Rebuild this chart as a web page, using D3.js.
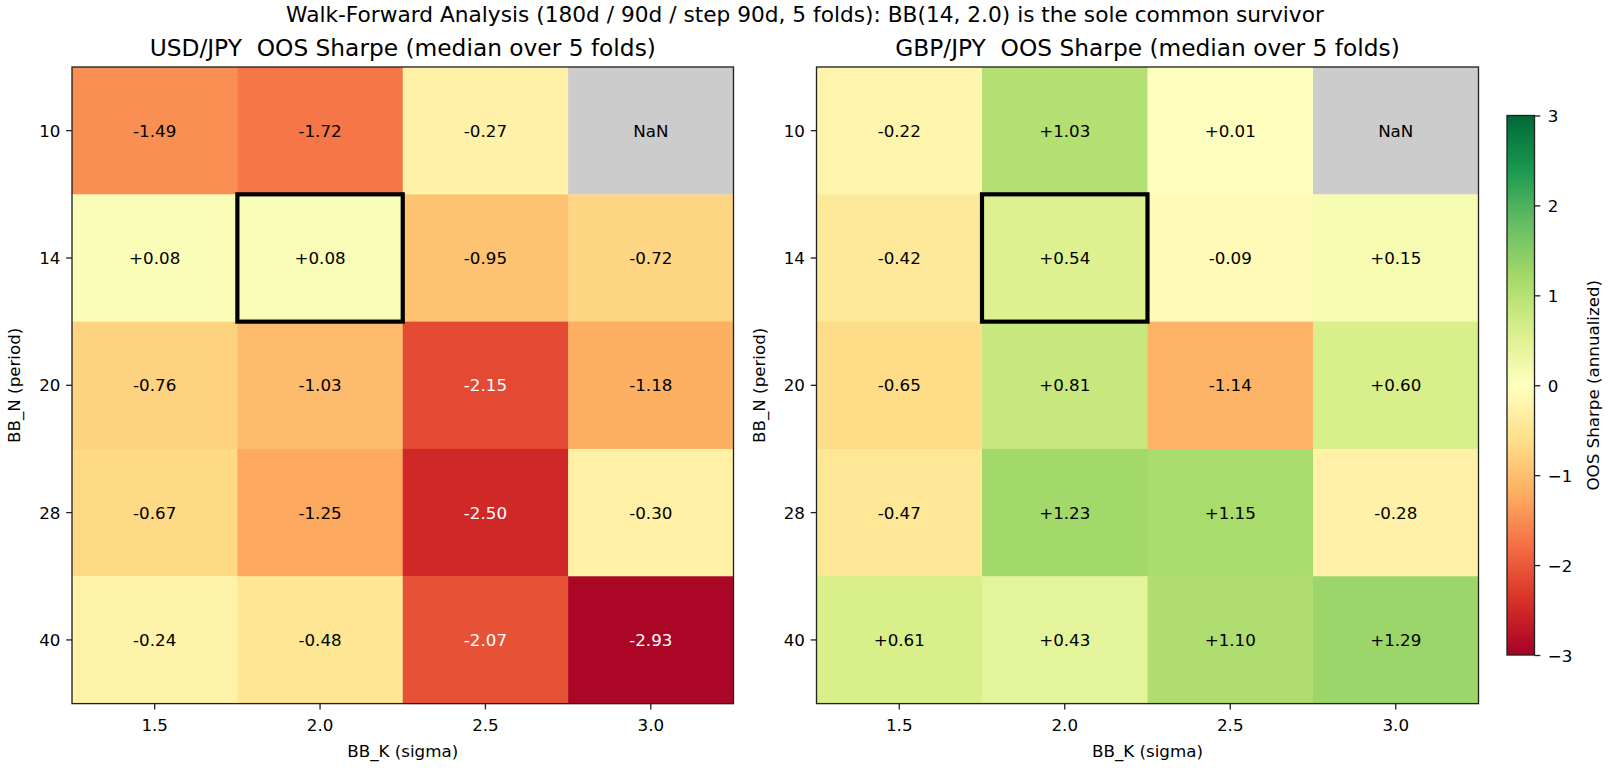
<!DOCTYPE html>
<html><head><meta charset="utf-8">
<script src="https://cdn.jsdelivr.net/npm/d3@7"></script>
<style>
html,body{margin:0;padding:0;background:#fff;}
text{font-family:"DejaVu Sans",sans-serif;fill:#000;white-space:pre;}
</style></head>
<body>
<svg id="chart" width="1610" height="770"></svg>
<script>
// ---- data ----
const suptitle = "Walk-Forward Analysis (180d / 90d / step 90d, 5 folds): BB(14, 2.0) is the sole common survivor";
const bbK = ["1.5", "2.0", "2.5", "3.0"];
const bbN = ["10", "14", "20", "28", "40"];
const pairTitles = ["USD/JPY  OOS Sharpe (median over 5 folds)", "GBP/JPY  OOS Sharpe (median over 5 folds)"];
const usdjpy = [
  [-1.49, -1.72, -0.27, null],
  [0.08, 0.08, -0.95, -0.72],
  [-0.76, -1.03, -2.15, -1.18],
  [-0.67, -1.25, -2.50, -0.30],
  [-0.24, -0.48, -2.07, -2.93]
];
const gbpjpy = [
  [-0.22, 1.03, 0.01, null],
  [-0.42, 0.54, -0.09, 0.15],
  [-0.65, 0.81, -1.14, 0.60],
  [-0.47, 1.23, 1.15, -0.28],
  [0.61, 0.43, 1.10, 1.29]
];
const survivor = {n: "14", k: "2.0"};
const cbarTicks = [3, 2, 1, 0, -1, -2, -3];
const cmapColors = ["#a50026","#d73027","#f46d43","#fdae61","#fee08b","#ffffbf","#d9ef8b","#a6d96a","#66bd63","#1a9850","#006837"];
const vmin = -3, vmax = 3;

// ---- setup ----
const svg = d3.select("#chart");
const color = d3.scaleLinear()
  .domain(cmapColors.map((c, i) => vmin + (vmax - vmin) * i / (cmapColors.length - 1)))
  .range(cmapColors).interpolate(d3.interpolateRgb).clamp(true);
const fmt = v => (v >= 0 ? "+" : "") + v.toFixed(2);
const FS = 16.7;
const TL = 5.8, TP = 5.8, LW = 1.33;

svg.append("text").attr("x", 805).attr("y", 21.7).attr("text-anchor", "middle")
  .style("font-size", "21.7px").text(suptitle);

const panels = [
  {x0: 72, x1: 733.5, data: usdjpy, title: pairTitles[0], ylabX: 13.5},
  {x0: 816.5, x1: 1478.5, data: gbpjpy, title: pairTitles[1], ylabX: 758.5}
];
const y0 = 67, y1 = 703.6;

panels.forEach(p => {
  const g = svg.append("g");
  const x = d3.scaleBand().domain(bbK).range([p.x0, p.x1]);
  const y = d3.scaleBand().domain(bbN).range([y0, y1]);
  const cells = [];
  p.data.forEach((row, i) => row.forEach((v, j) => cells.push({n: bbN[i], k: bbK[j], v})));
  g.selectAll("rect.cell").data(cells).join("rect").attr("class", "cell")
    .attr("x", d => x(d.k)).attr("y", d => y(d.n))
    .attr("width", x.bandwidth() + 0.5).attr("height", y.bandwidth() + 0.5)
    .attr("fill", d => d.v === null ? "#cccccc" : color(d.v));
  g.selectAll("text.val").data(cells).join("text").attr("class", "val")
    .attr("x", d => x(d.k) + x.bandwidth() / 2).attr("y", d => y(d.n) + y.bandwidth() / 2)
    .attr("text-anchor", "middle").attr("dominant-baseline", "central")
    .style("font-size", FS + "px")
    .style("fill", d => (d.v !== null && Math.abs(d.v) > 2) ? "#fff" : "#000")
    .text(d => d.v === null ? "NaN" : fmt(d.v));
  // highlight
  g.append("rect").attr("x", x(survivor.k)).attr("y", y(survivor.n))
    .attr("width", x.bandwidth()).attr("height", y.bandwidth())
    .attr("fill", "none").attr("stroke", "#000").attr("stroke-width", 4.2);
  // frame
  g.append("rect").attr("x", p.x0).attr("y", y0).attr("width", p.x1 - p.x0).attr("height", y1 - y0)
    .attr("fill", "none").attr("stroke", "#222").attr("stroke-width", LW);
  // axes
  const xa = g.append("g").attr("transform", `translate(0,${y1})`)
    .call(d3.axisBottom(x).tickSize(TL).tickPadding(TP));
  const ya = g.append("g").attr("transform", `translate(${p.x0},0)`)
    .call(d3.axisLeft(y).tickSize(TL).tickPadding(TP));
  [xa, ya].forEach(a => {
    a.select(".domain").remove();
    a.selectAll("line").attr("stroke", "#222").attr("stroke-width", LW);
    a.selectAll("text").style("font-size", FS + "px").style("font-family", '"DejaVu Sans",sans-serif').attr("fill", "#000");
  });
  xa.selectAll("text").attr("dy", null).attr("y", 27.4);
  ya.selectAll("text").attr("dy", null).attr("dominant-baseline", "central");
  g.append("text").attr("x", (p.x0 + p.x1) / 2).attr("y", 757.2).attr("text-anchor", "middle")
    .style("font-size", FS + "px").text("BB_K (sigma)");
  g.append("text").attr("transform", `translate(${p.ylabX},${(y0 + y1) / 2}) rotate(-90)`)
    .attr("text-anchor", "middle").attr("dominant-baseline", "central")
    .style("font-size", FS + "px").text("BB_N (period)");
  g.append("text").attr("x", (p.x0 + p.x1) / 2).attr("y", 56).attr("text-anchor", "middle")
    .style("font-size", "23.3px").text(p.title);
});

// ---- colorbar ----
const cb = {x0: 1507, x1: 1534.5, y0: 115.5, y1: 655};
const defs = svg.append("defs");
const grad = defs.append("linearGradient").attr("id", "cbgrad")
  .attr("x1", 0).attr("y1", 1).attr("x2", 0).attr("y2", 0);
grad.selectAll("stop").data(cmapColors).join("stop")
  .attr("offset", (d, i) => i / (cmapColors.length - 1)).attr("stop-color", d => d);
svg.append("rect").attr("x", cb.x0).attr("y", cb.y0).attr("width", cb.x1 - cb.x0).attr("height", cb.y1 - cb.y0)
  .attr("fill", "url(#cbgrad)").attr("stroke", "#222").attr("stroke-width", LW);
const cy = d3.scaleLinear().domain([vmin, vmax]).range([cb.y1, cb.y0]);
const ca = svg.append("g").attr("transform", `translate(${cb.x1},0)`)
  .call(d3.axisRight(cy).tickValues(cbarTicks).tickSize(TL).tickPadding(7.5)
    .tickFormat(d => d < 0 ? "\u2212" + Math.abs(d) : String(d)));
ca.select(".domain").remove();
ca.selectAll("line").attr("stroke", "#222").attr("stroke-width", LW);
ca.selectAll("text").attr("dy", null).attr("dominant-baseline", "central")
  .style("font-size", FS + "px").style("font-family", '"DejaVu Sans",sans-serif').attr("fill", "#000");
svg.append("text").attr("transform", `translate(1593,${(cb.y0 + cb.y1) / 2}) rotate(-90)`)
  .attr("text-anchor", "middle").attr("dominant-baseline", "central")
  .style("font-size", FS + "px").text("OOS Sharpe (annualized)");
</script>
</body></html>
